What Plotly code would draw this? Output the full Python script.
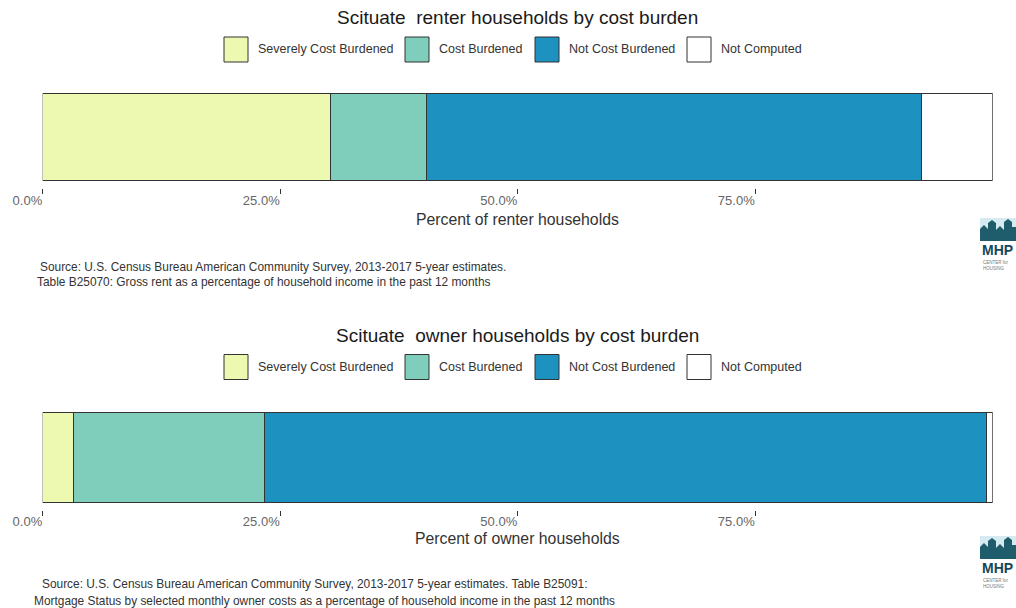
import plotly.graph_objects as go

# ---- data -------------------------------------------------------------
categories = ["Severely Cost Burdened", "Cost Burdened", "Not Cost Burdened", "Not Computed"]
colors = ["#EDF8B1", "#7FCDBB", "#1D91C0", "#FFFFFF"]

renter_pct = [30.3, 10.1, 52.1, 7.5]
owner_pct = [3.3, 20.1, 76.0, 0.6]

tick_vals = [0.0, 0.25, 0.5, 0.75]

panels = [
    {
        "title": "Scituate  renter households by cost burden",
        "axis_title": "Percent of renter households",
        "values": renter_pct,
        "captions": [
            "Source: U.S. Census Bureau American Community Survey, 2013-2017 5-year estimates.",
            "Table B25070: Gross rent as a percentage of household income in the past 12 months",
        ],
    },
    {
        "title": "Scituate  owner households by cost burden",
        "axis_title": "Percent of owner households",
        "values": owner_pct,
        "captions": [
            "Source: U.S. Census Bureau American Community Survey, 2013-2017 5-year estimates. Table B25091:",
            "Mortgage Status by selected monthly owner costs as a percentage of household income in the past 12 months",
        ],
    },
]

# ---- page geometry (pixels) -------------------------------------------
W, H = 1016, 608
FONT = "Liberation Sans, Arial, sans-serif"


def px(x):
    return x / W


def py(y):
    return 1 - y / H


# per-panel vertical layout in pixels
layout_px = [
    {"title": 18, "legend": 49.5, "panel": (87.3, 188.0), "axis_title": 219,
     "captions": [(38, 267), (35, 282)], "logo": 218},
    {"title": 335, "legend": 367, "panel": (405.5, 509.5), "axis_title": 538,
     "captions": [(40, 584), (32, 601)], "logo": 536},
]
legend_box_left = [224, 405, 535, 687]
BOX_W, BOX_H = 24, 25
X_LEFT, X_RIGHT = 42.7, 992.7

fig = go.Figure()
shapes = []
annotations = []

for i, (panel, geo) in enumerate(zip(panels, layout_px)):
    suffix = "" if i == 0 else str(i + 1)
    for cat, col, val in zip(categories, colors, panel["values"]):
        fig.add_trace(go.Bar(
            x=[val / 100.0], y=[0], orientation="h",
            name=cat, marker=dict(color=col, line=dict(color="#333333", width=1)),
            width=1.0, showlegend=False,
            xaxis="x" + suffix, yaxis="y" + suffix,
            hovertemplate=cat + ": %{x:.1%}<extra></extra>",
        ))

    top, bottom = geo["panel"]
    fig.update_layout(**{
        "xaxis" + suffix: dict(
            domain=[px(X_LEFT), px(X_RIGHT)], range=[0, 1], anchor="y" + suffix,
            tickvals=tick_vals, tickformat=".1%", ticks="outside", ticklen=5,
            tickwidth=1, tickcolor="#333333", ticklabelposition="outside left",
            tickfont=dict(family=FONT, size=13, color="#666666"),
            showgrid=False, zeroline=False, showline=False, fixedrange=True,
            automargin=False,
        ),
        "yaxis" + suffix: dict(
            domain=[py(bottom), py(top)], range=[-0.58, 0.58], anchor="x" + suffix,
            visible=False, fixedrange=True, automargin=False,
        ),
    })

    # title and axis title
    annotations.append(dict(
        text=panel["title"], x=px(517.5), y=py(geo["title"]),
        xref="paper", yref="paper", xanchor="center", yanchor="middle",
        showarrow=False, font=dict(family=FONT, size=19, color="#1a1a1a"),
    ))
    annotations.append(dict(
        text=panel["axis_title"], x=px(517), y=py(geo["axis_title"]),
        xref="paper", yref="paper", xanchor="center", yanchor="middle",
        showarrow=False, font=dict(family=FONT, size=15.8, color="#333333"),
    ))

    # legend: boxes and labels
    for cat, col, left in zip(categories, colors, legend_box_left):
        cy = geo["legend"]
        shapes.append(dict(
            type="rect", xref="paper", yref="paper",
            x0=px(left), x1=px(left + BOX_W),
            y0=py(cy + BOX_H / 2), y1=py(cy - BOX_H / 2),
            fillcolor=col, line=dict(color="#333333", width=1),
        ))
        annotations.append(dict(
            text=cat, x=px(left + BOX_W + 8), y=py(cy),
            xref="paper", yref="paper", xanchor="left", yanchor="middle",
            showarrow=False, font=dict(family=FONT, size=12.5, color="#333333"),
        ))

    # source captions
    for text, (cx, cy) in zip(panel["captions"], geo["captions"]):
        annotations.append(dict(
            text=text, x=px(cx), y=py(cy),
            xref="paper", yref="paper", xanchor="left", yanchor="middle",
            showarrow=False, font=dict(family=FONT, size=11.9, color="#333333"),
        ))

    # MHP logo in the right margin
    ly = geo["logo"]
    shapes.append(dict(
        type="rect", xref="paper", yref="paper",
        x0=px(980), x1=px(1016), y0=py(ly + 23), y1=py(ly),
        fillcolor="#d5eaf1", line=dict(width=0),
    ))
    pts = [(980, 23), (980, 11), (984, 7), (988, 11), (988, 5), (992, 2), (996, 5),
           (996, 12), (1000, 8), (1004, 12), (1004, 4), (1008, 1), (1012, 4),
           (1012, 9), (1016, 9), (1016, 23)]
    path = "M" + " L".join(f"{px(x):.5f},{py(ly + y):.5f}" for x, y in pts) + " Z"
    shapes.append(dict(type="path", xref="paper", yref="paper", path=path,
                       fillcolor="#1f5d6c", line=dict(width=0)))
    annotations.append(dict(
        text="<b>MHP</b>", x=px(980), y=py(ly + 32),
        xref="paper", yref="paper", xanchor="left", yanchor="middle",
        showarrow=False, font=dict(family=FONT, size=14, color="#17475a"),
    ))
    for k, t in enumerate(["CENTER for", "HOUSING"]):
        annotations.append(dict(
            text=t, x=px(981), y=py(ly + 44 + 6 * k),
            xref="paper", yref="paper", xanchor="left", yanchor="middle",
            showarrow=False, font=dict(family=FONT, size=4.5, color="#777777"),
        ))

fig.update_layout(
    width=W, height=H, margin=dict(l=0, r=0, t=0, b=0, pad=0, autoexpand=False),
    paper_bgcolor="white", plot_bgcolor="white",
    barmode="stack", bargap=0, showlegend=False,
    shapes=shapes, annotations=annotations,
)

fig.write_html("out.html")
